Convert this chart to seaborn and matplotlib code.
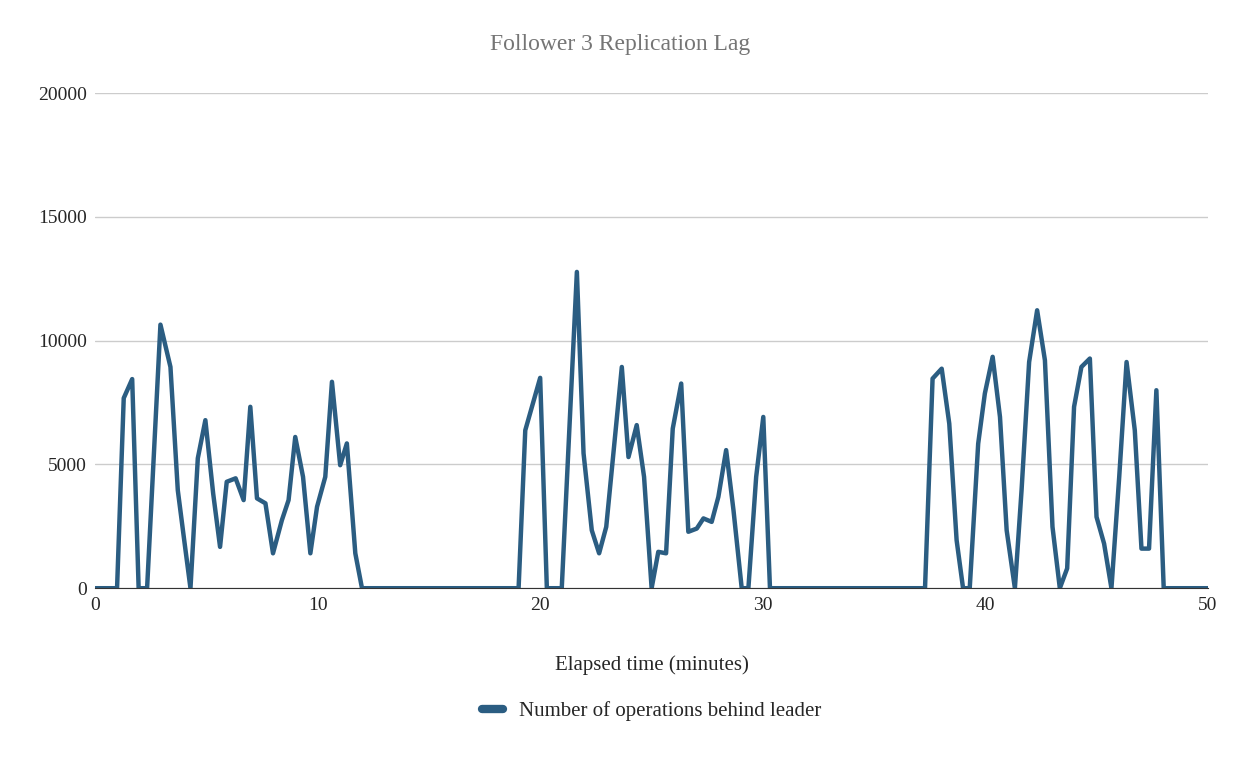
import numpy as np
import pandas as pd
import matplotlib.pyplot as plt
import seaborn as sns

# minutes / operations behind leader
minutes = [0, 0.97, 1.27, 1.65, 1.94, 2.32, 2.92, 3.37, 3.70, 3.97, 4.27, 4.60, 4.94, 5.29,
           5.60, 5.90, 6.30, 6.66, 6.96, 7.26, 7.64, 7.98, 8.38, 8.68, 8.98, 9.33, 9.66,
           9.96, 10.33, 10.63, 11.00, 11.30, 11.68, 11.98,
           19.02, 19.32, 19.99, 20.29, 20.96, 21.64, 21.94, 22.31, 22.64, 22.96, 23.66,
           23.96, 24.33, 24.66, 25.00, 25.30, 25.65, 25.95, 26.33, 26.65, 27.03, 27.33,
           27.70, 28.00, 28.35, 28.68, 29.05, 29.35, 29.70, 30.02, 30.32,
           37.29, 37.63, 38.04, 38.38, 38.71, 39.00, 39.30, 39.68, 39.98, 40.33, 40.66,
           40.96, 41.33, 41.63, 41.97, 42.33, 42.68, 43.02, 43.35, 43.68, 43.99, 44.32,
           44.70, 45.00, 45.34, 45.67, 46.02, 46.35, 46.72, 47.02, 47.36, 47.69, 48.02, 50]
ops_behind = [0, 0, 7680, 8450, 0, 0, 10650, 8940, 3960, 2070, 0, 5250, 6790, 3830,
              1670, 4300, 4440, 3560, 7330, 3630, 3430, 1410, 2750, 3560, 6110, 4500, 1410,
              3290, 4500, 8340, 4970, 5850, 1410, 0,
              0, 6380, 8500, 0, 0, 12780, 5450, 2340, 1410, 2480, 8940,
              5300, 6590, 4500, 0, 1470, 1410, 6450, 8270, 2280, 2410, 2820,
              2680, 3690, 5580, 3150, 0, 0, 4500, 6920, 0,
              0, 8470, 8870, 6650, 1940, 0, 0, 5840, 7870, 9350, 6920,
              2340, 0, 3960, 9140, 11230, 9210, 2480, 0, 800, 7330, 8940,
              9280, 2880, 1800, 0, 4500, 9140, 6380, 1600, 1600, 8000, 0, 0]

df = pd.DataFrame({'minutes': minutes, 'ops': ops_behind})

sns.set_style('white')
plt.rcParams['font.family'] = ['Liberation Serif', 'DejaVu Serif']

fig, ax = plt.subplots(figsize=(12.4, 7.58), dpi=100)
fig.subplots_adjust(left=0.077, right=0.974, top=0.877, bottom=0.224)

sns.lineplot(data=df, x='minutes', y='ops', ax=ax, color='#2b5d82', linewidth=3.2,
             label='Number of operations behind leader')

ax.set_xlim(0, 50)
ax.set_ylim(0, 20000)
ax.set_xticks([0, 10, 20, 30, 40, 50])
ax.set_yticks([0, 5000, 10000, 15000, 20000])
ax.tick_params(labelsize=14, length=0, pad=6)
ax.yaxis.grid(True, color='#cccccc', linewidth=1)
for s in ['top', 'right', 'left']:
    ax.spines[s].set_visible(False)
ax.spines['bottom'].set_color('#333333')
ax.set_axisbelow(True)

fig.suptitle('Follower 3 Replication Lag', y=0.955, fontsize=17, color='#757575')
ax.set_xlabel('Elapsed time (minutes)', fontsize=15, labelpad=30)
ax.set_ylabel('')

leg = ax.legend(loc='upper center', bbox_to_anchor=(0.5, -0.19), frameon=False,
                fontsize=15, handlelength=1.0, handletextpad=0.8)
for h in leg.get_lines():
    h.set_linewidth(6)

plt.savefig('out.png', dpi=100)
